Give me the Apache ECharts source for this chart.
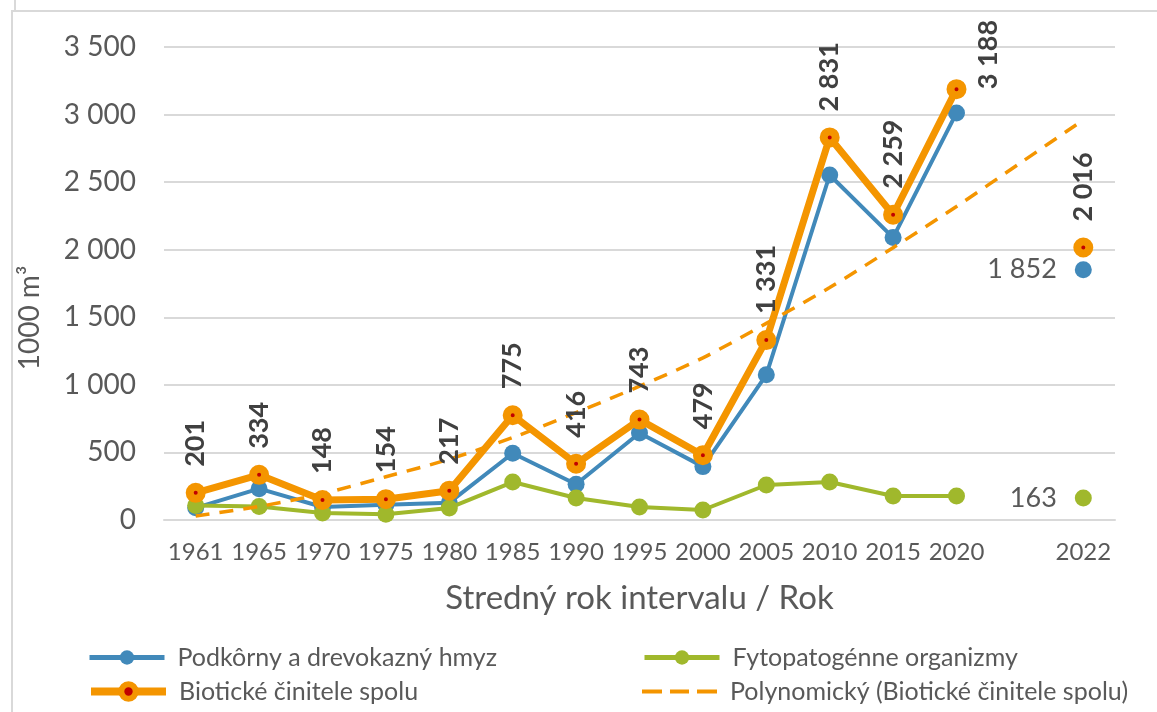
<!DOCTYPE html>
<html>
<head>
<meta charset="utf-8">
<script src="https://cdn.jsdelivr.net/npm/echarts@6/dist/echarts.min.js"></script>
<style>
  html, body { margin: 0; padding: 0; background: #fff; }
  #chart { width: 1157px; height: 712px; }
</style>
</head>
<body>
<div id="chart"></div>
<script>
// roky (prázdna kategória pred 2022)
var years = ['1961', '1965', '1970', '1975', '1980', '1985', '1990', '1995', '2000', '2005', '2010', '2015', '2020', '', '2022'];
var hmyz = [90, 232, 96, 112, 128, 494, 265, 644, 395, 1074, 2553, 2090, 3012, null, 1852];
var fyto = [108, 100, 52, 42, 89, 281, 163, 96, 74, 259, 281, 178, 178, null, 163];
var spolu = [201, 334, 148, 154, 217, 775, 416, 743, 479, 1331, 2831, 2259, 3188, null, 2016];
var trend = [30, 100, 195, 320, 450, 610, 795, 990, 1200, 1455, 1720, 2015, 2320, 2640, 2960];

var names = ['Podkôrny a drevokazný hmyz', 'Fytopatogénne organizmy', 'Biotické činitele spolu', 'Polynomický (Biotické činitele spolu)'];

var cBlue = '#4189BA';
var cGreen = '#A0B82C';
var cOrange = '#F49500';
var cRed = '#C00000';
var font = 'Lato';

function fmt(v) {
    return String(v).replace(/\B(?=(\d{3})+(?!\d))/g, ' ');
}

var sideLabel = { show: true, position: 'left', distance: 18, rotate: 0, fontWeight: 'normal', fontSize: 27, color: '#595959' };

// popisky pre sumárnu sériu
var spoluData = spolu.map(function (v, i) {
    if (v === null) return null;
    var item = { value: v };
    if (years[i] === '2020') {
        item.label = { position: 'right', distance: 22 };
    }
    return item;
});
var hmyzData = hmyz.map(function (v, i) {
    return years[i] === '2022' ? { value: v, label: sideLabel } : v;
});
var fytoData = fyto.map(function (v, i) {
    return years[i] === '2022' ? { value: v, label: sideLabel } : v;
});

var chart = echarts.init(document.getElementById('chart'));

function legendAt(name, left, top, lw, icon, itemStyle) {
    var d = { name: name };
    if (icon) d.icon = icon;
    var lg = {
        data: [d],
        left: left,
        top: top,
        itemWidth: 75,
        itemHeight: 18,
        lineStyle: { width: lw },
        textStyle: { fontFamily: font, fontSize: 25, color: '#595959', padding: [0, 0, 0, 8] }
    };
    if (itemStyle) lg.itemStyle = itemStyle;
    return lg;
}

var dashIcon = 'path://M0,0h20v4h-20Z M28,0h19v4h-19Z M55,0h20v4h-20Z';

var option = {
    animation: false,
    textStyle: { fontFamily: font },
    grid: { left: 164, right: 42, top: 47, bottom: 192 },
    legend: [
        legendAt(names[0], 82, 640, 5),
        legendAt(names[1], 637, 640, 5),
        legendAt(names[2], 82, 674, 8, null, { color: cRed, borderColor: cOrange, borderWidth: 6 }),
        legendAt(names[3], 637, 674, 4, dashIcon)
    ],
    graphic: [
        { type: 'rect', shape: { x: 12, y: 11, width: 1200, height: 760 }, style: { fill: 'none', stroke: '#d9d9d9', lineWidth: 2 }, silent: true },
        { type: 'line', shape: { x1: 15, y1: 0, x2: 15, y2: 10 }, style: { stroke: '#d9d9d9', lineWidth: 2 }, silent: true },
        {
            type: 'text', x: 30, y: 318, rotation: Math.PI / 2,
            style: { text: '1000 m³', fontFamily: font, fontSize: 28, fill: '#595959', align: 'center', verticalAlign: 'middle' }
        }
    ],
    xAxis: {
        type: 'category',
        data: years,
        boundaryGap: true,
        name: 'Stredný rok intervalu / Rok',
        nameLocation: 'middle',
        nameGap: 62,
        nameTextStyle: { fontFamily: font, fontSize: 33, color: '#595959' },
        axisLine: { lineStyle: { color: '#d9d9d9', width: 2 } },
        axisTick: { length: 8, interval: 0, lineStyle: { color: '#d9d9d9', width: 2 } },
        axisLabel: { interval: 0, fontSize: 24, color: '#595959', margin: 20, fontFamily: font }
    },
    yAxis: {
        type: 'value',
        min: 0,
        max: 3500,
        interval: 500,
        axisLine: { show: false },
        axisTick: { show: false },
        splitLine: { lineStyle: { color: '#d9d9d9', width: 2 } },
        axisLabel: { fontSize: 28, color: '#595959', margin: 28, fontFamily: font, formatter: fmt }
    },
    series: [
        {
            name: names[0],
            type: 'line',
            data: hmyzData,
            symbol: 'circle',
            symbolSize: 17,
            lineStyle: { color: cBlue, width: 4 },
            itemStyle: { color: cBlue },
            label: { show: false, formatter: function (p) { return fmt(p.value); }, fontFamily: font },
            z: 2
        },
        {
            name: names[1],
            type: 'line',
            data: fytoData,
            symbol: 'circle',
            symbolSize: 17,
            lineStyle: { color: cGreen, width: 4 },
            itemStyle: { color: cGreen },
            label: { show: false, formatter: function (p) { return fmt(p.value); }, fontFamily: font },
            z: 3
        },
        {
            name: names[3],
            type: 'line',
            data: trend,
            symbol: 'none',
            smooth: 0.3,
            lineStyle: { color: cOrange, width: 3.5, type: [14, 10] },
            itemStyle: { color: cOrange },
            z: 4
        },
        {
            name: names[2],
            type: 'line',
            data: spoluData,
            symbol: 'circle',
            symbolSize: 12,
            lineStyle: { color: cOrange, width: 7 },
            itemStyle: { color: cRed, borderColor: cOrange, borderWidth: 8 },
            label: {
                show: true,
                position: 'top',
                distance: 16,
                rotate: 90,
                align: 'left',
                verticalAlign: 'middle',
                fontFamily: font,
                fontWeight: 'bold',
                fontSize: 27,
                color: '#404040',
                formatter: function (p) { return fmt(p.value); }
            },
            z: 5
        }
    ]
};

chart.setOption(option);
</script>
</body>
</html>
